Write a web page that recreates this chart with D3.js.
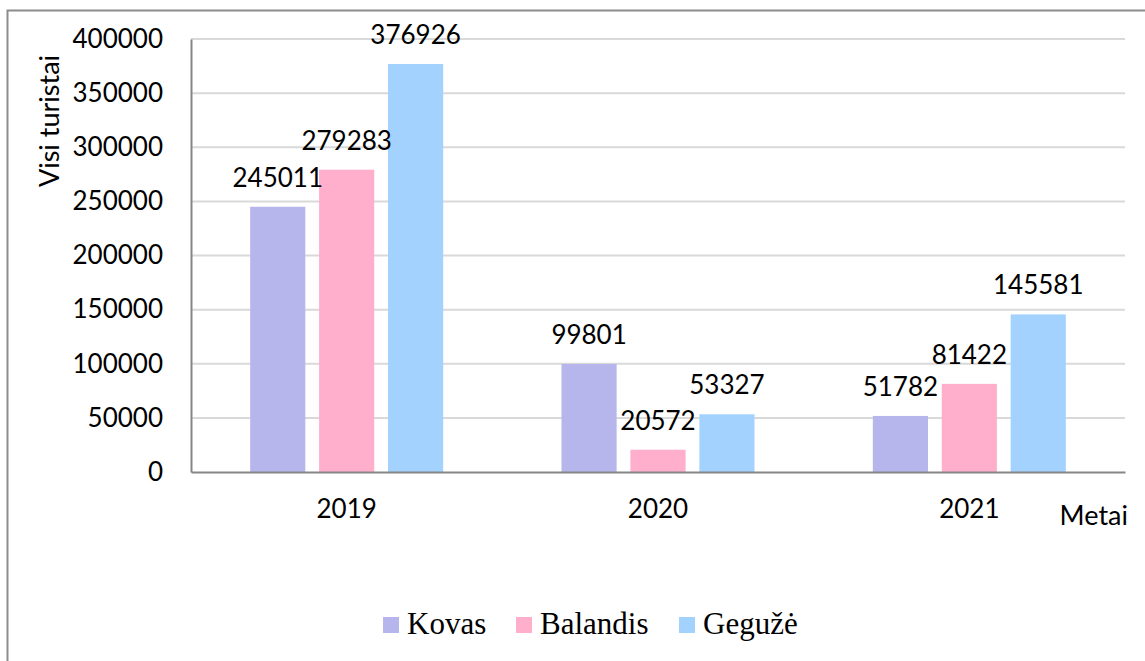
<!DOCTYPE html>
<html>
<head>
<meta charset="utf-8">
<script src="https://cdn.jsdelivr.net/npm/d3@7"></script>
<style>
  body { margin: 0; background: #fff; }
  svg { display: block; }
</style>
</head>
<body>
<div id="chart"></div>
<script>
// duomenys
let years = ["2019", "2020", "2021"];
let months = ["Kovas", "Balandis", "Gegužė"];
let kovas = [245011, 99801, 51782];
let balandis = [279283, 20572, 81422];
let geguze = [376926, 53327, 145581];
let yTicks = [0, 50000, 100000, 150000, 200000, 250000, 300000, 350000, 400000];
let colors = ["#b6b6ec", "#ffaecb", "#a3d2fe"];

let series = [kovas, balandis, geguze];

let W = 1145, H = 661;
let plotL = 191, plotR = 1125, plotT = 39, plotB = 472;
let numFont = "Lato, 'Open Sans', sans-serif";

var svg = d3.select("#chart")
    .append("svg")
    .attr("width", W)
    .attr("height", H);

// outer frame (only top + left visible)
svg.append("path")
    .attr("d", "M7.5," + H + " V10.5 H" + W)
    .attr("fill", "none")
    .attr("stroke", "#8c8c8c")
    .attr("stroke-width", 2);

let x0 = d3.scaleBand().domain(years).range([plotL, plotR]);
let x1 = d3.scaleBand().domain(months).range([0, 193]).paddingInner(0.2);
let y = d3.scaleLinear().domain([0, 400000]).range([plotB, plotT]);

// gridlines
svg.append("g")
    .selectAll("line")
    .data(yTicks.filter(d => d > 0))
    .enter().append("line")
    .attr("x1", plotL).attr("x2", plotR)
    .attr("y1", d => y(d)).attr("y2", d => y(d))
    .attr("stroke", "#d9d9d9")
    .attr("stroke-width", 2);

// y axis
let yAxis = svg.append("g")
    .attr("transform", "translate(" + plotL + ",0)")
    .call(d3.axisLeft(y).tickValues(yTicks).tickSize(0).tickPadding(28).tickFormat(d3.format("d")));
yAxis.select(".domain").attr("stroke", "#868686").attr("stroke-width", 2);
yAxis.selectAll("text")
    .style("font-family", numFont)
    .style("font-size", "26px")
    .attr("fill", "#000");

// bars
let groups = svg.append("g")
    .selectAll("g")
    .data(years)
    .enter().append("g")
    .attr("transform", d => "translate(" + (x0(d) + x0.bandwidth() / 2 - 96.5) + ",0)");

groups.selectAll("rect")
    .data((d, i) => months.map((m, j) => ({ month: m, value: series[j][i], c: colors[j] })))
    .enter().append("rect")
    .attr("x", d => x1(d.month))
    .attr("width", x1.bandwidth())
    .attr("y", d => y(d.value))
    .attr("height", d => plotB - y(d.value))
    .attr("fill", d => d.c);

groups.selectAll("text")
    .data((d, i) => months.map((m, j) => ({ month: m, value: series[j][i] })))
    .enter().append("text")
    .attr("x", d => x1(d.month) + x1.bandwidth() / 2)
    .attr("y", d => y(d.value) - 20)
    .attr("text-anchor", "middle")
    .style("font-family", numFont)
    .style("font-size", "26px")
    .text(d => d.value);

// x axis
let xAxis = svg.append("g")
    .attr("transform", "translate(0," + plotB + ")")
    .call(d3.axisBottom(x0).tickSize(0).tickPadding(28));
xAxis.select(".domain").attr("stroke", "#868686").attr("stroke-width", 2);
xAxis.selectAll("text")
    .style("font-family", numFont)
    .style("font-size", "26px")
    .attr("fill", "#000");

// axis titles
svg.append("text")
    .attr("transform", "translate(59,121) rotate(-90)")
    .attr("text-anchor", "middle")
    .style("font-family", numFont)
    .style("font-size", "27px")
    .text("Visi turistai");

svg.append("text")
    .attr("x", 1128)
    .attr("y", 525)
    .attr("text-anchor", "end")
    .style("font-family", numFont)
    .style("font-size", "27px")
    .text("Metai");

// legend
let legendX = [383, 516, 679];
let legend = svg.append("g")
    .selectAll("g")
    .data(months)
    .enter().append("g")
    .attr("transform", (d, i) => "translate(" + legendX[i] + ",617)");
legend.append("rect")
    .attr("width", 16).attr("height", 16)
    .attr("fill", (d, i) => colors[i]);
legend.append("text")
    .attr("x", 24)
    .attr("y", 17)
    .style("font-family", "'Liberation Serif', 'Times New Roman', serif")
    .style("font-size", "31px")
    .text(d => d);
</script>
</body>
</html>
